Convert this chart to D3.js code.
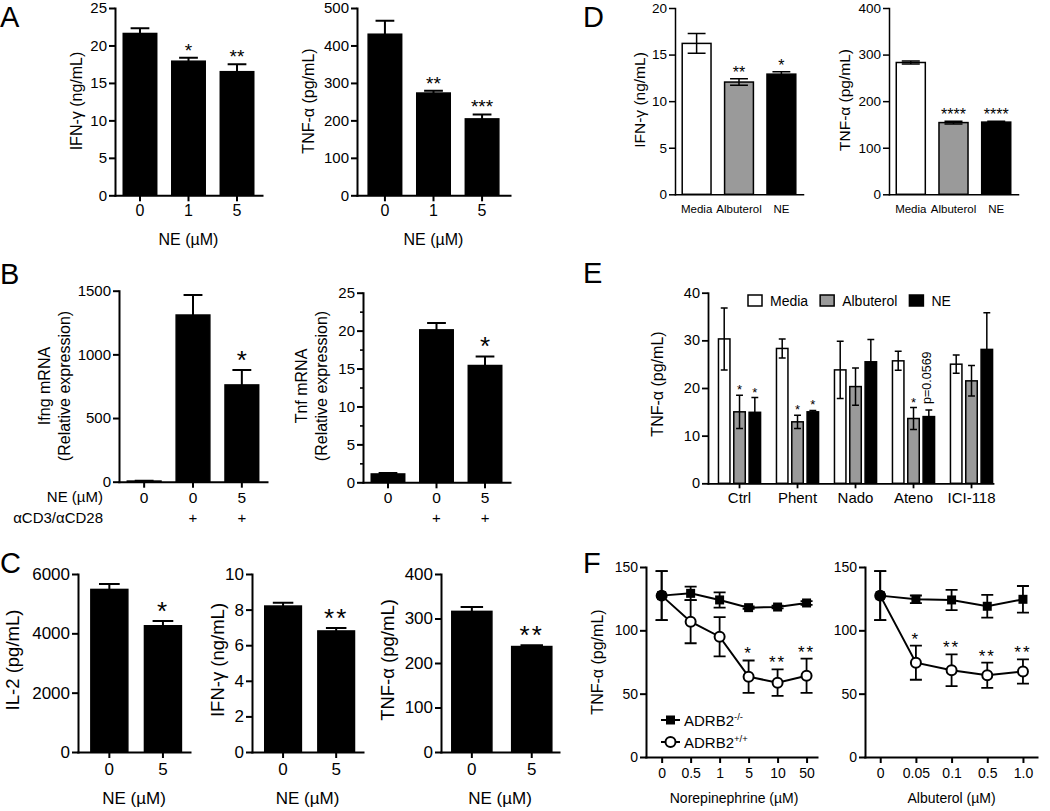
<!DOCTYPE html>
<html>
<head>
<meta charset="utf-8">
<script src="https://cdn.jsdelivr.net/npm/d3@7"></script>
<style>
  body { margin: 0; background: #fff; }
  svg { display: block; font-family: "Liberation Sans", Arial, Helvetica, sans-serif; }
</style>
</head>
<body>
<svg id="fig" width="1050" height="811"></svg>
<script>
// ---- data ----
const neDose3 = ['0', '1', '5'];
const aIfngMean = [21.6, 17.9, 16.5];
const aIfngErr = [0.7, 0.45, 1.0];
const aIfngSig = ['', '*', '**'];
const aTnfMean = [430, 273, 204];
const aTnfErr = [36, 6, 12];
const aTnfSig = ['', '**', '***'];

const bDose = ['0', '0', '5'];
const bStim = ['', '+', '+'];
const bIfngMean = [5, 1309, 760];
const bIfngErr = [2, 157, 117];
const bIfngSig = ['', '', '*'];
const bTnfMean = [1.1, 20.1, 15.4];
const bTnfErr = [0.12, 0.9, 1.2];
const bTnfSig = ['', '', '*'];

const cDose = ['0', '5'];
const cIl2Mean = [5480, 4255];
const cIl2Err = [180, 160];
const cIl2Sig = ['', '*'];
const cIfngMean = [8.2, 6.8];
const cIfngErr = [0.19, 0.17];
const cIfngSig = ['', '**'];
const cTnfMean = [316, 237];
const cTnfErr = [10, 3];
const cTnfSig = ['', '**'];

const treatments = ['Media', 'Albuterol', 'NE'];
const dIfngMean = [16.2, 12.05, 12.9];
const dIfngErr = [1.05, 0.35, 0.25];
const dIfngSig = ['', '**', '*'];
const dTnfMean = [283, 154, 155];
const dTnfErr = [3, 3, 2];
const dTnfSig = ['', '****', '****'];

const eGroups = ['Ctrl', 'Phent', 'Nado', 'Ateno', 'ICI-118'];
const eMedia = [30.3, 28.3, 23.8, 25.7, 25.0];
const eMediaErr = [6.5, 2.0, 6.0, 2.0, 1.9];
const eAlb = [15.0, 12.9, 20.3, 13.6, 21.5];
const eAlbErr = [3.5, 1.4, 3.9, 2.3, 3.2];
const eNe = [14.9, 15.0, 25.5, 14.0, 28.1];
const eNeErr = [3.1, 0.3, 4.7, 1.4, 7.7];
const eAlbSig = ['*', '*', '', '*', ''];
const eNeSig = ['*', '*', '', 'p=0.0569', ''];

const fNeDose = ['0', '0.5', '1', '5', '10', '50'];
const fNeKo = [127.4, 129.2, 124, 117.9, 118.4, 121.6];
const fNeKoErr = [19.3, 5.3, 6, 1, 1, 1.5];
const fNeWt = [127.4, 106.8, 95, 63.4, 58.7, 64.2];
const fNeWtErr = [19.3, 17, 15.5, 12.8, 10.4, 13.5];
const fNeSig = ['', '', '', '*', '**', '**'];

const fAlbDose = ['0', '0.05', '0.1', '0.5', '1.0'];
const fAlbKo = [127.4, 124.5, 124, 119, 124.5];
const fAlbKoErr = [19.3, 3, 8, 9, 10.5];
const fAlbWt = [127.4, 74.5, 68.5, 64.5, 67.5];
const fAlbWtErr = [19.3, 13.5, 12.5, 10, 9.5];
const fAlbSig = ['', '*', '**', '**', '**'];

const ticks25 = [0, 5, 10, 15, 20, 25];
const ticks500 = [0, 100, 200, 300, 400, 500];
const ticks1500 = [0, 500, 1000, 1500];
const ticks6000 = [0, 2000, 4000, 6000];
const ticks10 = [0, 2, 4, 6, 8, 10];
const ticks400 = [0, 100, 200, 300, 400];
const ticks20 = [0, 5, 10, 15, 20];
const ticks40 = [0, 10, 20, 30, 40];
const ticks150 = [0, 50, 100, 150];

const svg = d3.select('#fig');
const fillFor = { Media: '#fff', Albuterol: '#9a9a9a', NE: '#000' };

function styleAxis(a, sw, fs) {
  a.attr('font-family', null).attr('font-size', fs);
  a.select('.domain').attr('stroke-width', sw).attr('stroke-linecap', 'square');
  a.selectAll('.tick line').attr('stroke-width', sw);
  a.selectAll('.tick text').attr('fill', '#000');
}

function yAxis(g, y, x0, ticks, sw, fs, tick = 6) {
  const a = g.append('g').attr('transform', `translate(${x0},0)`)
    .call(d3.axisLeft(y).tickValues(ticks).tickFormat(d => String(d))
      .tickSize(tick).tickSizeOuter(0).tickPadding(2));
  styleAxis(a, sw, fs);
  return a;
}

function errorBars(g, pts, y, cap, sw) {
  g.append('g').selectAll('path').data(pts).join('path')
    .attr('d', p => {
      const lo = y(Math.max(0, p.m - p.e)), hi = y(p.m + p.e);
      return `M${p.cx},${lo}V${hi}M${p.cx - cap / 2},${hi}h${cap}M${p.cx - cap / 2},${lo}h${cap}`;
    })
    .attr('fill', 'none').attr('stroke', '#000').attr('stroke-width', sw);
}

function stars(g, pts, y, fs, spacing = 0) {
  g.append('g').selectAll('text').data(pts.filter(p => p.s)).join('text')
    .attr('x', p => p.cx).attr('y', p => y(p.m + p.e) - 1)
    .attr('text-anchor', 'middle').attr('font-size', fs)
    .attr('letter-spacing', spacing).text(p => p.s);
}

function yLabel(lines, xs, yMid, fs) {
  lines.forEach((t, i) => {
    svg.append('text')
      .attr('transform', `translate(${xs[i]},${yMid}) rotate(-90)`)
      .attr('text-anchor', 'middle').attr('dominant-baseline', 'central')
      .attr('font-size', fs).text(t);
  });
}

function label(t, x, y, fs, anchor = 'middle') {
  return svg.append('text').attr('x', x).attr('y', y).attr('font-size', fs)
    .attr('text-anchor', anchor).text(t);
}

// f = [axisX, axisEndX, topY, zeroY]
function barPanel(o) {
  const g = svg.append('g');
  const x = d3.scaleBand().domain(d3.range(o.cats.length)).range([o.f[0], o.f[1]])
    .paddingInner(o.pi ?? 0.31).paddingOuter(o.po ?? 0.17).align(o.align ?? 0.5);
  const y = d3.scaleLinear().domain([0, o.yMax]).range([o.f[3], o.f[2]]);
  const bw = x.bandwidth();
  g.selectAll('rect').data(o.mean).join('rect')
    .attr('x', (d, i) => x(i)).attr('y', d => y(d))
    .attr('width', bw).attr('height', d => y(0) - y(d))
    .attr('fill', (d, i) => o.fills ? o.fills[i] : '#000')
    .attr('stroke', '#000').attr('stroke-width', o.barSw ?? 1.5);
  const pts = o.mean.map((m, i) => ({ cx: x(i) + bw / 2, m, e: o.err[i], s: o.sig[i] }));
  errorBars(g, pts, y, bw * (o.cap ?? 0.56), o.sw);
  stars(g, pts, y, o.starFs, o.starSp ?? 0);
  yAxis(g, y, o.f[0], o.yTicks, o.sw, o.yFs);
  if (o.minor) {
    const m = g.append('g').attr('transform', `translate(${o.f[0]},0)`)
      .call(d3.axisLeft(y).tickValues(o.minor).tickSize(3).tickSizeOuter(0).tickFormat(''));
    styleAxis(m, o.sw * 0.8, 1);
    m.select('.domain').remove();
  }
  const xa = g.append('g').attr('transform', `translate(0,${o.f[3]})`)
    .call(d3.axisBottom(x).tickSize(o.xTick ?? 6).tickSizeOuter(0)
      .tickPadding(o.xPad ?? 3).tickFormat(i => o.cats[i]));
  styleAxis(xa, o.sw, o.xFs);
  if (o.xTick === 0) xa.selectAll('.tick line').remove();
  return { x, y, g };
}

// ---- A ----
label('A', 0, 27, 29, 'start');
barPanel({ f: [115, 262, 8, 195.3], cats: neDose3, mean: aIfngMean, err: aIfngErr, sig: aIfngSig,
  yMax: 25, yTicks: ticks25, sw: 2, yFs: 15, xFs: 16, starFs: 19 });
yLabel(['IFN-γ (ng/mL)'], [76], 101, 16);
label('NE (µM)', 188.5, 245, 16);
barPanel({ f: [357, 510, 8, 195.3], cats: neDose3, mean: aTnfMean, err: aTnfErr, sig: aTnfSig,
  yMax: 500, yTicks: ticks500, sw: 2, yFs: 15, xFs: 16, starFs: 19, po: 0.23 });
yLabel(['TNF-α (pg/mL)'], [308], 101, 16);
label('NE (µM)', 433.5, 245, 16);

// ---- B ----
label('B', 0, 284, 29, 'start');
const bl = barPanel({ f: [119, 267, 290.7, 481.7], cats: bDose, mean: bIfngMean, err: bIfngErr, sig: bIfngSig,
  yMax: 1500, yTicks: ticks1500, sw: 2, yFs: 15, xFs: 15.5, xPad: 4, starFs: 26 });
yLabel(['Ifng mRNA', '(Relative expression)'], [44, 64], 386, 16);
label('NE (µM)', 103, 502, 15, 'end');
label('αCD3/αCD28', 103, 523, 15, 'end');
const br = barPanel({ f: [363, 510, 292.7, 482.3], cats: bDose, mean: bTnfMean, err: bTnfErr, sig: bTnfSig,
  yMax: 25, yTicks: ticks25, minor: [2.5, 7.5, 12.5, 17.5, 22.5], sw: 2, yFs: 15, xFs: 15.5, xPad: 4, starFs: 26 });
yLabel(['Tnf mRNA', '(Relative expression)'], [301, 321], 386, 16);
[bl, br].forEach(p => {
  bStim.forEach((s, i) => {
    if (s) label(s, p.x(i) + p.x.bandwidth() / 2, 523, 15);
  });
});

// ---- C ----
label('C', 0, 573, 29, 'start');
barPanel({ f: [78, 190, 574, 752], cats: cDose, mean: cIl2Mean, err: cIl2Err, sig: cIl2Sig,
  yMax: 6000, yTicks: ticks6000, sw: 2, yFs: 17, xFs: 17, xPad: 5, starFs: 26, starSp: 2,
  po: 0.2, align: 0.6 });
yLabel(['IL-2 (pg/mL)'], [12], 660, 18.5);
label('NE (µM)', 134, 804, 17);
barPanel({ f: [252, 363, 574, 752], cats: cDose, mean: cIfngMean, err: cIfngErr, sig: cIfngSig,
  yMax: 10, yTicks: ticks10, sw: 2, yFs: 17, xFs: 17, xPad: 5, starFs: 26, starSp: 2,
  po: 0.2, align: 0.6 });
yLabel(['IFN-γ (ng/mL)'], [217], 660, 18.5);
label('NE (µM)', 307.5, 804, 17);
barPanel({ f: [441, 559, 574, 752], cats: cDose, mean: cTnfMean, err: cTnfErr, sig: cTnfSig,
  yMax: 400, yTicks: ticks400, sw: 2, yFs: 17, xFs: 17, xPad: 5, starFs: 26, starSp: 2,
  pi: 0.33, po: 0.15, align: 0.6 });
yLabel(['TNF-α (pg/mL)'], [387], 660, 18.5);
label('NE (µM)', 500, 804, 17);

// ---- D ----
label('D', 583, 27, 29, 'start');
const dFills = treatments.map(t => fillFor[t]);
barPanel({ f: [675, 803, 8, 194.3], cats: treatments, mean: dIfngMean, err: dIfngErr, sig: dIfngSig,
  fills: dFills, yMax: 20, yTicks: ticks20, sw: 1.5, yFs: 13.5, xFs: 11.5, xTick: 0, xPad: 10.3,
  starFs: 16, pi: 0.32, cap: 0.62 });
yLabel(['IFN-γ (ng/mL)'], [639], 100, 15.5);
barPanel({ f: [889, 1018, 8, 194.3], cats: treatments, mean: dTnfMean, err: dTnfErr, sig: dTnfSig,
  fills: dFills, yMax: 400, yTicks: ticks400, sw: 1.5, yFs: 13.5, xFs: 11.5, xTick: 0, xPad: 10.3,
  starFs: 16, pi: 0.32, cap: 0.62 });
yLabel(['TNF-α (pg/mL)'], [844], 100, 15.5);

// ---- E ----
label('E', 583, 283, 29, 'start');
(function () {
  const f = [708, 993, 292.7, 483.3];
  const g = svg.append('g');
  const x0 = d3.scaleBand().domain(eGroups).range([f[0], f[1]])
    .paddingInner(0.274).paddingOuter(0.094).align(0.96);
  const x1 = d3.scaleBand().domain(treatments).range([0, x0.bandwidth()]).paddingInner(0.25);
  const y = d3.scaleLinear().domain([0, 40]).range([f[3], f[2]]);
  const series = [
    { t: 'Media', mean: eMedia, err: eMediaErr, sig: eGroups.map(() => '') },
    { t: 'Albuterol', mean: eAlb, err: eAlbErr, sig: eAlbSig },
    { t: 'NE', mean: eNe, err: eNeErr, sig: eNeSig },
  ];
  const bw = x1.bandwidth();
  const pts = [];
  series.forEach(s => {
    s.mean.forEach((m, i) => {
      const gx = x0(eGroups[i]) + x1(s.t);
      g.append('rect').attr('x', gx).attr('y', y(m)).attr('width', bw).attr('height', y(0) - y(m))
        .attr('fill', fillFor[s.t]).attr('stroke', '#000').attr('stroke-width', 1.5);
      pts.push({ cx: gx + bw / 2, m, e: s.err[i], s: s.sig[i] });
    });
  });
  errorBars(g, pts, y, bw * 0.6, 1.5);
  stars(g, pts.filter(p => p.s === '*'), y, 13);
  pts.filter(p => p.s && p.s !== '*').forEach(p => {
    g.append('text')
      .attr('transform', `translate(${p.cx - 2},${y(p.m + p.e) - 6}) rotate(-90)`)
      .attr('dominant-baseline', 'central').attr('font-size', 12.5).text(p.s);
  });
  yAxis(g, y, f[0], ticks40, 1.8, 14.5);
  const xa = g.append('g').attr('transform', `translate(0,${f[3]})`)
    .call(d3.axisBottom(x0).tickSize(5).tickSizeOuter(0).tickPadding(4));
  styleAxis(xa, 1.8, 15);
  yLabel(['TNF-α (pg/mL)'], [657.5], 384, 16);

  // legend
  let lx = 748;
  treatments.forEach(t => {
    g.append('rect').attr('x', lx).attr('y', 295).attr('width', 14).attr('height', 11)
      .attr('fill', fillFor[t]).attr('stroke', '#000').attr('stroke-width', 1.5);
    const tx = g.append('text').attr('x', lx + 22).attr('y', 305.5).attr('font-size', 14).text(t);
    lx += 22 + tx.node().getComputedTextLength() + 12;
  });
})();

// ---- F ----
label('F', 583, 573, 29, 'start');
function linePanel(o) {
  const g = svg.append('g');
  const x = d3.scalePoint().domain(d3.range(o.doses.length)).range([o.f[0], o.f[1]])
    .padding(o.pad).align(o.align);
  const y = d3.scaleLinear().domain([0, 150]).range([o.f[3], o.f[2]]);
  const line = d3.line().x((d, i) => x(i)).y(d => y(d));
  [o.ko, o.wt].forEach(s => {
    g.append('path').attr('d', line(s)).attr('fill', 'none')
      .attr('stroke', '#000').attr('stroke-width', 2);
  });
  const koPts = o.ko.map((m, i) => ({ cx: x(i), m, e: o.koErr[i] }));
  const wtPts = o.wt.map((m, i) => ({ cx: x(i), m, e: o.wtErr[i], s: o.sig[i] }));
  errorBars(g, koPts, y, 12, 1.8);
  errorBars(g, wtPts, y, 12, 1.8);
  g.append('g').selectAll('rect').data(koPts).join('rect')
    .attr('x', p => p.cx - 4.5).attr('y', p => y(p.m) - 4.5)
    .attr('width', 9).attr('height', 9).attr('fill', '#000');
  // the shared 0 point is drawn as a filled circle
  g.append('g').selectAll('circle').data(wtPts).join('circle')
    .attr('cx', p => p.cx).attr('cy', p => y(p.m)).attr('r', 5)
    .attr('fill', (p, i) => i === 0 ? '#000' : '#fff')
    .attr('stroke', '#000').attr('stroke-width', 2);
  stars(g, wtPts, y, 17, 2);
  yAxis(g, y, o.f[0], ticks150, 2, 14);
  const xa = g.append('g').attr('transform', `translate(0,${o.f[3]})`)
    .call(d3.axisBottom(x).tickSize(6).tickSizeOuter(0).tickPadding(5).tickFormat(i => o.doses[i]));
  styleAxis(xa, 2, 14);
  label(o.xlab, (x(0) + x(o.doses.length - 1)) / 2, 803, 14);
}
linePanel({ f: [646, 817, 567, 757], doses: fNeDose, ko: fNeKo, koErr: fNeKoErr,
  wt: fNeWt, wtErr: fNeWtErr, sig: fNeSig, pad: 0.45, align: 0.6, xlab: 'Norepinephrine (µM)' });
linePanel({ f: [865, 1037, 567, 757], doses: fAlbDose, ko: fAlbKo, koErr: fAlbKoErr,
  wt: fAlbWt, wtErr: fAlbWtErr, sig: fAlbSig, pad: 0.41, align: 0.52, xlab: 'Albuterol (µM)' });
yLabel(['TNF-α (pg/mL)'], [597.5], 662, 16);

// F legend
(function () {
  const g = svg.append('g');
  const items = [['-/-', 'sq'], ['+/+', 'ci']];
  items.forEach(([sup, mk], i) => {
    const ly = 720 + i * 22;
    g.append('line').attr('x1', 661).attr('x2', 680).attr('y1', ly).attr('y2', ly)
      .attr('stroke', '#000').attr('stroke-width', 2);
    if (mk === 'sq') {
      g.append('rect').attr('x', 666).attr('y', ly - 4.5).attr('width', 9).attr('height', 9).attr('fill', '#000');
    } else {
      g.append('circle').attr('cx', 670.5).attr('cy', ly).attr('r', 5)
        .attr('fill', '#fff').attr('stroke', '#000').attr('stroke-width', 2);
    }
    const t = g.append('text').attr('x', 684).attr('y', ly + 5.5).attr('font-size', 15).text('ADRB2');
    t.append('tspan').attr('dy', -6).attr('font-size', 9.5).text(sup);
  });
})();
</script>
</body>
</html>
